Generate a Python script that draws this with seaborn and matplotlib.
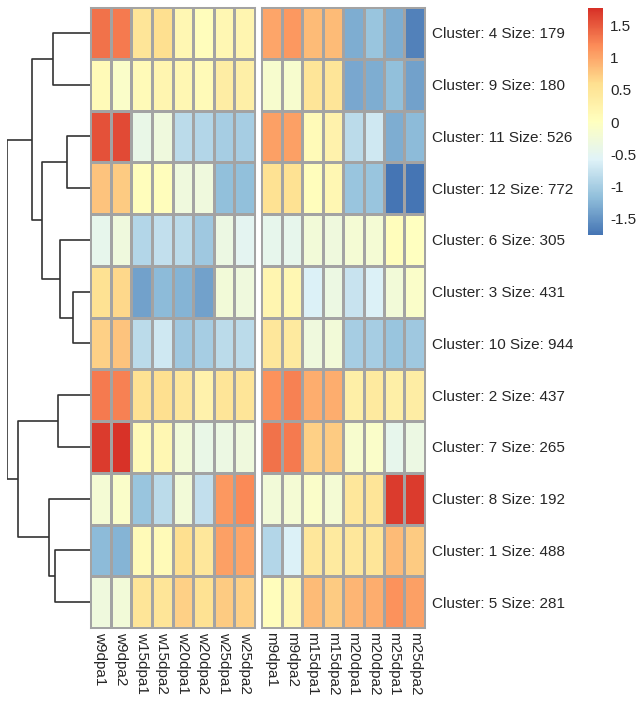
import numpy as np
import pandas as pd
import seaborn as sns
import matplotlib.pyplot as plt
from matplotlib.colors import LinearSegmentedColormap

# clusters in the order they are shown (top to bottom)
cluster_ids = [4, 9, 11, 12, 6, 3, 10, 2, 7, 8, 1, 5]
cluster_sizes = [179, 180, 526, 772, 305, 431, 944, 437, 265, 192, 488, 281]

cols_w = ["w9dpa1", "w9dpa2", "w15dpa1", "w15dpa2", "w20dpa1", "w20dpa2", "w25dpa1", "w25dpa2"]
cols_m = ["m9dpa1", "m9dpa2", "m15dpa1", "m15dpa2", "m20dpa1", "m20dpa2", "m25dpa1", "m25dpa2"]

# scaled expression
vals_w = [
    [1.35, 1.30, 0.50, 0.60, 0.15, 0.05, 0.15, 0.20],
    [0.10, -0.10, 0.10, 0.20, 0.15, 0.10, 0.35, 0.30],
    [1.55, 1.60, -0.40, -0.30, -0.85, -0.90, -1.00, -1.00],
    [0.80, 0.75, 0.05, 0.05, -0.30, -0.30, -1.15, -1.15],
    [-0.45, -0.30, -0.90, -0.80, -0.85, -1.05, -0.35, -0.50],
    [0.55, 0.65, -1.40, -1.20, -1.25, -1.40, -0.25, -0.30],
    [0.70, 0.80, -0.85, -0.70, -1.05, -1.00, -0.85, -0.85],
    [1.30, 1.25, 0.55, 0.60, 0.45, 0.25, 0.50, 0.50],
    [1.70, 1.75, 0.10, 0.15, -0.25, -0.40, -0.35, -0.30],
    [-0.20, -0.10, -1.10, -0.85, -0.25, -0.80, 1.10, 1.20],
    [-1.20, -1.25, 0.10, 0.10, 0.60, 0.45, 1.05, 1.00],
    [-0.30, -0.25, 0.50, 0.50, 0.70, 0.55, 0.75, 0.70],
]
vals_m = [
    [1.00, 1.10, 0.85, 0.85, -1.30, -1.10, -1.30, -1.65],
    [-0.15, -0.15, 0.50, 0.50, -1.35, -1.30, -1.15, -1.40],
    [1.05, 1.05, 0.10, 0.25, -0.85, -0.70, -1.30, -1.20],
    [0.55, 0.55, 0.05, 0.15, -1.10, -1.10, -1.75, -1.80],
    [-0.45, -0.45, -0.25, -0.30, -0.20, -0.20, 0.05, 0.00],
    [0.20, 0.15, -0.60, -0.35, -0.75, -0.60, -0.25, -0.10],
    [0.45, 0.40, -0.30, -0.25, -1.00, -1.00, -1.10, -1.05],
    [1.15, 1.25, 0.95, 0.95, 0.30, 0.40, 0.30, 0.35],
    [1.35, 1.30, 0.70, 0.75, -0.15, -0.10, -0.45, -0.35],
    [-0.25, -0.20, -0.10, -0.20, 0.45, 0.50, 1.70, 1.70],
    [-0.90, -0.60, 0.45, 0.40, 0.45, 0.50, 0.85, 0.75],
    [0.05, 0.15, 0.85, 0.75, 0.90, 0.95, 1.15, 1.05],
]

# row dendrogram: (left, right, height); leaves 0..11, new nodes from 12
merges = [
    (0, 1, 110), (2, 3, 70), (5, 6, 52), (4, 14, 90), (13, 15, 142),
    (12, 16, 173), (7, 8, 95), (10, 11, 105), (9, 19, 122), (18, 20, 215),
    (17, 21, 248),
]

row_labels = [f"Cluster: {c} Size: {s}" for c, s in zip(cluster_ids, cluster_sizes)]
df_w = pd.DataFrame(vals_w, index=row_labels, columns=cols_w)
df_m = pd.DataFrame(vals_m, index=row_labels, columns=cols_m)

cmap = LinearSegmentedColormap.from_list(
    "pheat", ["#4575B4", "#91BFDB", "#E0F3F8", "#FFFFBF", "#FEE090", "#FC8D59", "#D73027"])
VMIN, VMAX = -1.75, 1.77

sns.set_theme(style="white")
plt.rcParams['font.family'] = ['Liberation Sans', 'DejaVu Sans']

W, H = 641, 706
fig = plt.figure(figsize=(W / 100, H / 100), dpi=100)


def px(x0, y0, x1, y1):
    return [x0 / W, 1 - y1 / H, (x1 - x0) / W, (y1 - y0) / H]


ax_w = fig.add_axes(px(90, 7, 255, 628))
ax_m = fig.add_axes(px(261, 7, 425, 628))
ax_d = fig.add_axes(px(7, 7, 90, 628))
ax_c = fig.add_axes(px(588, 8, 603, 235))

grid = dict(cmap=cmap, vmin=VMIN, vmax=VMAX, linewidths=0.75, linecolor="#a3a3a3")
sns.heatmap(df_w, ax=ax_w, cbar=False, yticklabels=False, **grid)
sns.heatmap(df_m, ax=ax_m, cbar_ax=ax_c, **grid)

for ax in (ax_w, ax_m):
    ax.set_xticklabels(ax.get_xticklabels(), rotation=270, fontsize=11)
    ax.tick_params(axis="x", length=0, pad=3)
    for s in ax.spines.values():
        s.set_visible(True)
        s.set_color("#a3a3a3")
        s.set_linewidth(0.75)
ax_m.yaxis.tick_right()
ax_m.set_yticklabels(row_labels, rotation=0, fontsize=11)
ax_m.tick_params(axis="y", length=0, pad=5)

# colorbar like pheatmap's legend
cb = ax_m.collections[0].colorbar
cb.outline.set_visible(False)
cb.set_ticks([-1.5, -1, -0.5, 0, 0.5, 1, 1.5])
cb.set_ticklabels(["-1.5", "-1", "-0.5", "0", "0.5", "1", "1.5"])
ax_c.tick_params(length=0, labelsize=11, pad=5)

# draw dendrogram from merge list
pos = {i: (i + 0.5, 0.0) for i in range(len(cluster_ids))}
for k, (a, b, h) in enumerate(merges):
    ya, ha = pos[a]
    yb, hb = pos[b]
    ax_d.plot([ha, h, h, hb], [ya, ya, yb, yb], color="#333333", lw=1.2,
              solid_capstyle="butt")
    pos[len(cluster_ids) + k] = ((ya + yb) / 2, h)
ax_d.set_ylim(len(cluster_ids), 0)
ax_d.set_xlim(merges[-1][2], 0)
ax_d.axis("off")

fig.savefig("out.png", dpi=100)
